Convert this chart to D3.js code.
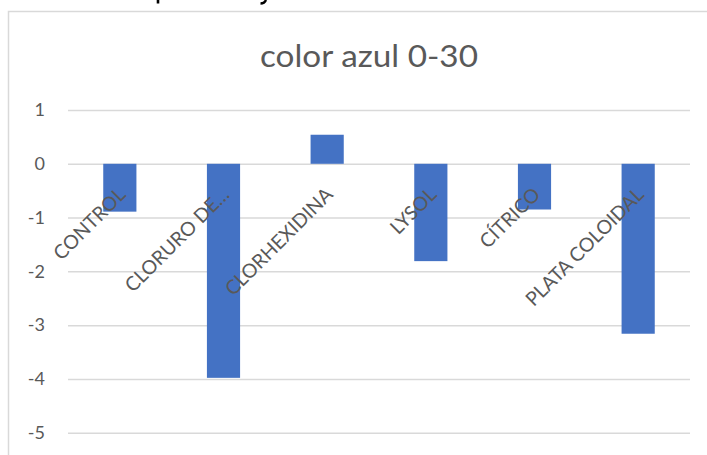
<!DOCTYPE html>
<html>
<head>
<meta charset="utf-8">
<script src="https://cdn.jsdelivr.net/npm/d3@7"></script>
<style>
  html, body { margin: 0; padding: 0; background: #fff; }
  svg { display: block; }
</style>
</head>
<body>
<svg id="chart" width="707" height="455"></svg>
<script>
// Treatments and their change in blue colour (0-30)
const categories = ["CONTROL", "CLORURO DE…", "CLORHEXIDINA", "LYSOL", "CÍTRICO", "PLATA COLOIDAL"];
const values = [-0.89, -3.98, 0.54, -1.81, -0.85, -3.16];
const yTicks = [1, 0, -1, -2, -3, -4, -5];
const chartTitle = "color azul 0-30";

const svg = d3.select("#chart");
const textColor = "#595959";
const gridColor = "#d9d9d9";
const barColor = "#4472c4";
const font = "Lato, 'Open Sans', sans-serif";

// ink of the document line just above the chart frame
svg.append("path")
  .attr("d", "M158,0 V3.5")
  .attr("stroke", "#000").attr("stroke-width", 2.6).attr("fill", "none");
svg.append("path")
  .attr("d", "M266,0 Q264.5,3.5 260.5,3.5")
  .attr("stroke", "#000").attr("stroke-width", 2.4).attr("fill", "none");

// chart area border
svg.append("rect")
  .attr("x", 8.5).attr("y", 11.5)
  .attr("width", 740).attr("height", 520)
  .attr("fill", "#fff").attr("stroke", gridColor).attr("stroke-width", 1.5);

const plot = { left: 68, right: 690, top: 110, bottom: 432.7 };

const x = d3.scaleBand()
  .domain(categories)
  .range([plot.left, plot.right])
  .paddingInner(0.68)
  .paddingOuter(0.34);

const y = d3.scaleLinear()
  .domain([-5, 1])
  .range([plot.bottom, plot.top]);

// title
svg.append("text")
  .attr("x", 369).attr("y", 66.7)
  .attr("text-anchor", "middle")
  .attr("font-family", font).attr("font-weight", 400)
  .attr("font-size", 31)
  .attr("fill", textColor)
  .attr("textLength", 218).attr("lengthAdjust", "spacingAndGlyphs")
  .text(chartTitle);

// horizontal gridlines and value labels
const yAxis = d3.axisLeft(y)
  .tickValues(yTicks)
  .tickFormat(d => String(d))
  .tickSize(-(plot.right - plot.left))
  .tickPadding(23);

const gy = svg.append("g")
  .attr("transform", `translate(${plot.left},0)`)
  .call(yAxis);
gy.select(".domain").remove();
gy.selectAll(".tick line")
  .attr("stroke", gridColor).attr("stroke-width", 1.5);
gy.selectAll(".tick text")
  .attr("fill", textColor)
  .attr("font-family", font)
  .attr("font-size", 18);

// bars
svg.append("g").selectAll("rect")
  .data(values)
  .join("rect")
  .attr("x", (d, i) => x(categories[i]))
  .attr("width", x.bandwidth())
  .attr("y", d => y(Math.max(0, d)))
  .attr("height", d => Math.abs(y(d) - y(0)))
  .attr("fill", barColor);

// category labels, rotated and drawn over the bars
svg.append("g").selectAll("text")
  .data(categories)
  .join("text")
  .attr("transform", d => {
    const cx = x(d) + x.bandwidth() / 2 + 7;
    const cy = y(0) + 32;
    return `translate(${cx},${cy}) rotate(-45)`;
  })
  .attr("text-anchor", "end")
  .attr("font-family", font)
  .attr("font-size", 19.5)
  .attr("fill", textColor)
  .text(d => d);
</script>
</body>
</html>
